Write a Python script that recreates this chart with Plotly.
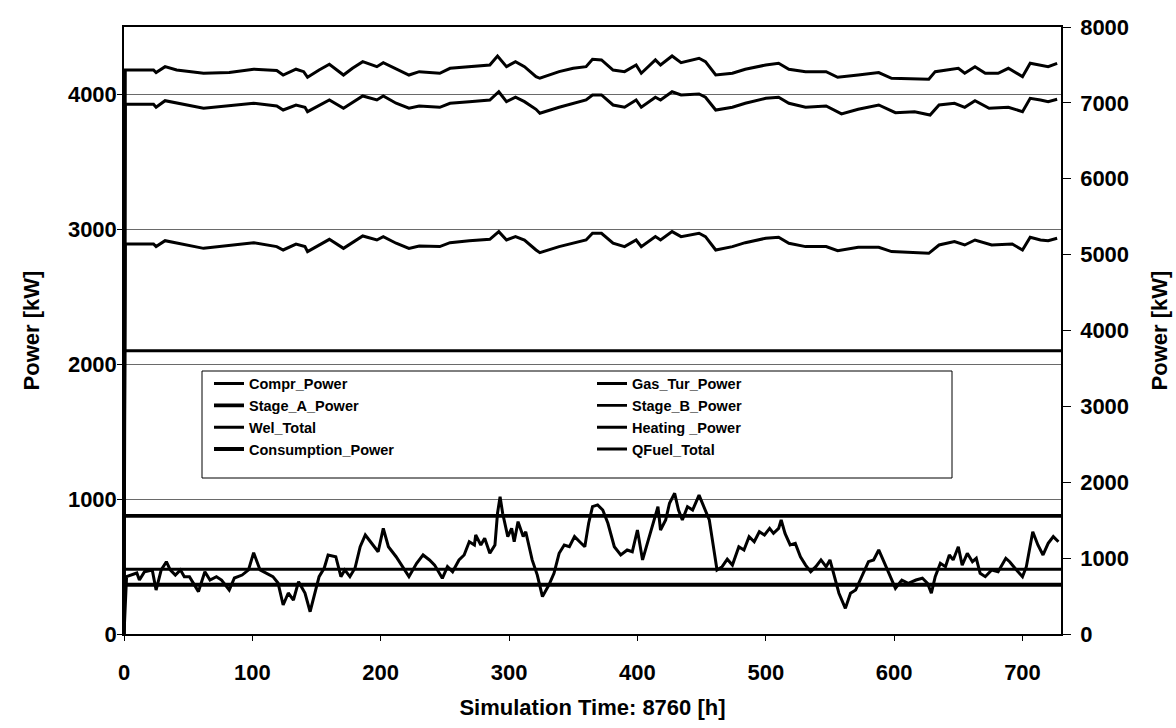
import plotly.graph_objects as go

# ---- data: hourly simulation results, sampled along the 730-step run ----
const_t = [0, 730]
compr_kw = [2100, 2100]
stage_a_kw = [875, 875]
stage_b_kw = [480, 480]
consumption_kw = [365, 365]

gas_t = [0, 1, 23, 25, 32, 41, 62, 82, 101, 119, 124, 134, 140, 143, 152, 160, 171, 178,
         186, 197, 202, 212, 222, 230, 238, 246, 254, 269, 285, 291, 298, 305, 312, 321,
         324, 339, 350, 360, 365, 372, 381, 390, 399, 403, 414, 418, 427, 434, 448, 453,
         461, 474, 484, 500, 510, 518, 531, 547, 556, 572, 588, 598, 627, 632, 643, 650,
         655, 663, 671, 681, 689, 700, 706, 714, 720, 727]
gas_tur_kw = [0, 4181, 4181, 4162, 4206, 4181, 4157, 4162, 4187, 4177, 4144, 4187, 4169,
              4127, 4181, 4224, 4144, 4194, 4243, 4206, 4236, 4187, 4144, 4169, 4162, 4157,
              4194, 4206, 4218, 4285, 4206, 4243, 4206, 4132, 4120, 4169, 4194, 4206, 4261,
              4256, 4181, 4169, 4218, 4157, 4256, 4218, 4285, 4236, 4268, 4243, 4144, 4157,
              4187, 4218, 4231, 4187, 4169, 4169, 4127, 4144, 4162, 4120, 4113, 4169, 4187,
              4194, 4157, 4206, 4157, 4157, 4194, 4132, 4231, 4218, 4206, 4231]

fuel_t = [0, 1, 23, 25, 32, 62, 101, 119, 124, 134, 141, 143, 160, 171, 186, 197, 202, 212,
          222, 230, 246, 254, 269, 285, 292, 298, 305, 312, 321, 324, 339, 360, 365, 372,
          381, 390, 399, 403, 414, 418, 427, 434, 448, 453, 461, 474, 484, 500, 510, 518,
          531, 547, 559, 572, 588, 601, 616, 628, 635, 647, 655, 663, 674, 689, 700, 706,
          714, 720, 727]
qfuel_kw = [0, 6981, 6981, 6942, 7029, 6929, 6995, 6959, 6906, 6972, 6942, 6884, 7038,
            6929, 7091, 7038, 7091, 6995, 6929, 6959, 6942, 6995, 7016, 7038, 7147, 7016,
            7074, 7016, 6915, 6863, 6942, 7038, 7104, 7104, 6972, 6942, 7038, 6942, 7074,
            7038, 7147, 7104, 7117, 7074, 6906, 6942, 6995, 7060, 7074, 6995, 6942, 6959,
            6854, 6915, 6972, 6871, 6884, 6840, 6972, 6995, 6942, 7029, 6929, 6942, 6884,
            7060, 7038, 7016, 7047]

wel_t = [0, 1, 23, 25, 32, 62, 101, 119, 124, 134, 141, 143, 160, 171, 186, 197, 202, 212,
         222, 230, 246, 254, 269, 285, 292, 298, 305, 312, 321, 324, 339, 360, 365, 372,
         381, 390, 399, 403, 414, 418, 427, 434, 448, 453, 461, 474, 484, 500, 510, 518,
         531, 547, 556, 572, 588, 598, 627, 635, 647, 655, 663, 676, 692, 700, 706, 714,
         720, 727]
wel_total_kw = [0, 2891, 2891, 2872, 2916, 2859, 2901, 2872, 2847, 2891, 2872, 2835, 2926,
                2859, 2951, 2921, 2946, 2897, 2859, 2877, 2872, 2901, 2916, 2926, 2983, 2921,
                2946, 2921, 2847, 2827, 2872, 2921, 2971, 2971, 2897, 2872, 2921, 2872, 2946,
                2921, 2983, 2946, 2971, 2946, 2847, 2872, 2901, 2934, 2941, 2897, 2872, 2872,
                2842, 2867, 2867, 2835, 2822, 2884, 2909, 2884, 2921, 2884, 2891, 2847, 2941,
                2921, 2916, 2934]

heat_t = [0, 2, 10, 12, 16, 22, 25, 29, 33, 36, 40, 44, 47, 51, 58, 63, 67, 72, 76, 82, 86,
          92, 97, 101, 106, 111, 116, 120, 124, 128, 132, 136, 141, 145, 149, 152, 156, 159,
          165, 169, 172, 176, 180, 184, 188, 194, 198, 202, 206, 212, 217, 222, 228, 233,
          238, 242, 248, 252, 256, 261, 265, 269, 273, 274, 278, 281, 285, 289, 291, 293,
          295, 299, 302, 304, 307, 311, 313, 318, 322, 326, 331, 335, 339, 343, 347, 351,
          355, 359, 362, 365, 369, 373, 377, 382, 387, 392, 396, 400, 404, 408, 413, 416,
          418, 422, 425, 429, 432, 435, 439, 443, 448, 452, 456, 458, 462, 466, 470, 474,
          479, 483, 487, 491, 495, 499, 503, 506, 510, 512, 515, 519, 523, 527, 531, 535,
          539, 543, 547, 550, 553, 557, 562, 566, 570, 575, 580, 584, 588, 592, 596, 601,
          606, 611, 617, 622, 626, 629, 632, 636, 640, 643, 646, 650, 653, 657, 661, 664,
          667, 671, 676, 681, 687, 690, 694, 700, 703, 708, 712, 716, 720, 724, 728]
heating_kw = [0, 425, 452, 400, 462, 475, 326, 475, 536, 475, 437, 475, 425, 425, 314, 462,
              400, 425, 400, 326, 415, 437, 475, 603, 475, 452, 425, 378, 215, 304, 252, 388,
              304, 165, 326, 425, 489, 586, 573, 425, 475, 425, 489, 647, 734, 660, 610, 783,
              647, 573, 499, 425, 524, 586, 549, 511, 413, 499, 462, 549, 586, 684, 660, 734,
              660, 709, 598, 660, 895, 1018, 895, 722, 783, 684, 833, 722, 758, 549, 437,
              277, 363, 450, 598, 660, 647, 722, 684, 647, 821, 944, 957, 919, 821, 647, 586,
              623, 610, 771, 549, 684, 833, 944, 771, 845, 969, 1043, 919, 845, 944, 919,
              1030, 944, 845, 722, 475, 499, 554, 511, 647, 623, 722, 684, 758, 734, 783,
              746, 783, 845, 746, 660, 672, 573, 511, 462, 499, 549, 499, 549, 450, 302, 190,
              302, 326, 425, 536, 549, 623, 536, 450, 339, 400, 376, 400, 413, 376, 302, 425,
              524, 499, 586, 549, 647, 511, 598, 536, 561, 450, 425, 475, 462, 561, 536, 489,
              425, 499, 758, 660, 586, 672, 722, 684]

FONT = "Liberation Sans, Arial, sans-serif"
INK = "black"

fig = go.Figure()

# legend order fills row by row: (Compr, Gas_Tur), (Stage_A, Stage_B), ...
series = [
    ("Compr_Power", const_t, compr_kw, "y", 3.0),
    ("Gas_Tur_Power", gas_t, gas_tur_kw, "y", 3.0),
    ("Stage_A_Power", const_t, stage_a_kw, "y", 3.8),
    ("Stage_B_Power", const_t, stage_b_kw, "y", 2.8),
    ("Wel_Total", wel_t, wel_total_kw, "y", 3.0),
    ("Heating _Power", heat_t, heating_kw, "y", 3.0),
    ("Consumption_Power", const_t, consumption_kw, "y", 3.8),
    ("QFuel_Total", fuel_t, qfuel_kw, "y2", 3.0),
]
for name, xs, ys, ax, w in series:
    fig.add_trace(go.Scatter(x=xs, y=ys, name=name, mode="lines", yaxis=ax,
                             line=dict(color=INK, width=w), showlegend=True))

tick_font = dict(family=FONT, size=22, color=INK, weight="bold")
title_font = dict(family=FONT, size=22, color=INK, weight="bold")

fig.update_layout(
    width=1176, height=728,
    margin=dict(l=124, r=115, t=27, b=94),
    paper_bgcolor="white", plot_bgcolor="white",
    font=dict(family=FONT, color=INK),
    xaxis=dict(range=[0, 730], tick0=0, dtick=100, showgrid=False, zeroline=False,
               showline=True, linecolor=INK, linewidth=1.5, mirror=True,
               ticks="outside", ticklen=5, tickcolor=INK, tickfont=tick_font,
               ticklabelstandoff=13, automargin=False,
               title=dict(text="Simulation Time: 8760 [h]", font=title_font, standoff=15)),
    yaxis=dict(range=[0, 4500], tick0=0, dtick=1000, showgrid=True, gridcolor="#6a6a6a",
               gridwidth=1, zeroline=False, showline=True, linecolor=INK, linewidth=1.5,
               ticks="outside", ticklen=5, tickcolor=INK, tickfont=tick_font,
               ticklabelstandoff=-4, automargin=False,
               title=dict(text="Power [kW]", font=title_font, standoff=22)),
    yaxis2=dict(range=[0, 8000], tick0=0, dtick=1000, overlaying="y", side="right",
                showgrid=False, zeroline=False, showline=True, linecolor=INK, linewidth=1.5,
                ticks="outside", ticklen=8, tickcolor=INK, tickfont=tick_font,
                ticklabelstandoff=5, automargin=False,
                title=dict(text="Power [kW]", font=title_font, standoff=23)),
    legend=dict(orientation="h", x=(209 - 124) / 937, y=(634 - 367.5) / 607,
                xanchor="left", yanchor="top", entrywidth=338, entrywidthmode="pixels",
                bgcolor="rgba(0,0,0,0)", borderwidth=0,
                font=dict(family=FONT, size=14.5, color=INK, weight="bold"),
                traceorder="normal", itemwidth=30),
    shapes=[dict(type="rect", xref="paper", yref="paper",
                 x0=(202 - 124) / 937, x1=(952 - 124) / 937,
                 y0=(634 - 478) / 607, y1=(634 - 371) / 607,
                 line=dict(color=INK, width=1), fillcolor="white", layer="above")],
)

fig.write_html("out.html")
